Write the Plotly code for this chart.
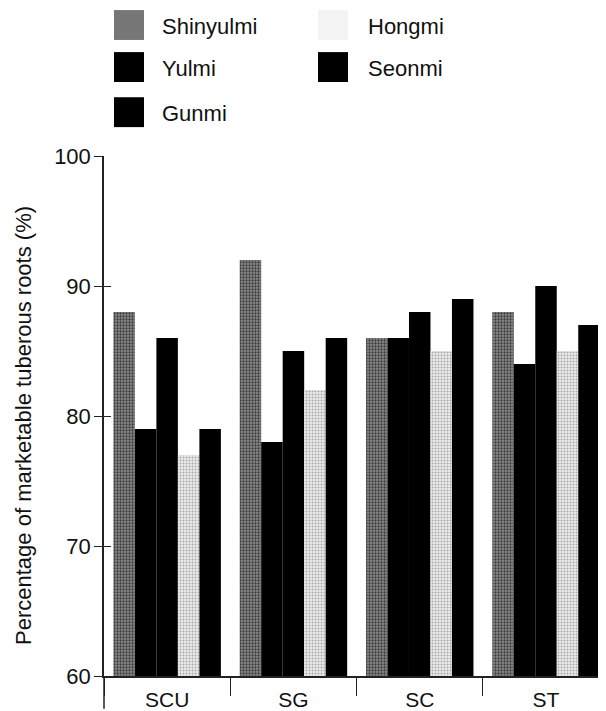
import plotly.graph_objects as go

# ---- data ----
categories = ["SCU", "SG", "SC", "ST"]
varieties = ["Shinyulmi", "Yulmi", "Gunmi", "Hongmi", "Seonmi"]
shinyulmi = [88, 92, 86, 88]
yulmi = [79, 78, 86, 84]
gunmi = [86, 85, 88, 90]
hongmi = [77, 82, 85, 85]
seonmi = [79, 86, 89, 87]
series_values = [shinyulmi, yulmi, gunmi, hongmi, seonmi]
y_ticks = [60, 70, 80, 90, 100]

# ---- styles ----
FONT = "Liberation Sans, Arial, sans-serif"
styles = {
    "Shinyulmi": dict(bg="#8c8c8c", fg="#3c3c3c", shape=".", size=3, solidity=0.45, swatch="#767676"),
    "Yulmi": dict(bg="#000000", fg="#000000", shape="", size=3, solidity=0.3, swatch="#000000"),
    "Gunmi": dict(bg="#000000", fg="#000000", shape="", size=3, solidity=0.3, swatch="#000000"),
    "Hongmi": dict(bg="#ececec", fg="#a8a8a8", shape=".", size=3, solidity=0.35, swatch="#f3f3f3"),
    "Seonmi": dict(bg="#000000", fg="#000000", shape="", size=3, solidity=0.3, swatch="#000000"),
}

OFF = 8  # default page body margin
W, H = 606 - OFF, 711 - OFF
L, R, T, B = 104 - OFF, 0, 156 - OFF, 33
PW, PH = W - L - R, H - T - B


def px_x(p):
    return (p - OFF - L) / PW


def px_y(p):
    return (H - B - (p - OFF)) / PH


fig = go.Figure()
for name, vals in zip(varieties, series_values):
    s = styles[name]
    marker = dict(color=s["bg"], line=dict(width=0))
    if s["shape"]:
        marker["pattern"] = dict(shape=s["shape"], fgcolor=s["fg"], bgcolor=s["bg"],
                                 size=s["size"], solidity=s["solidity"], fillmode="replace")
    fig.add_trace(go.Bar(x=categories, y=vals, name=name, marker=marker, showlegend=False))

# invisible trace for the overlaid tick axis
fig.add_trace(go.Scatter(x=[], y=[], yaxis="y2", showlegend=False, hoverinfo="skip"))

# ---- manual legend ----
legend_cols = [[0, 1, 2], [3, 4]]
col_x = [114, 318]
text_x = [160, 366]
row_cy = [24.5, 66.7, 112]
sw = 30
shapes = []
annotations = []
for ci, col in enumerate(legend_cols):
    for ri, vi in enumerate(col):
        name = varieties[vi]
        cy = row_cy[ri]
        shapes.append(dict(type="rect", xref="paper", yref="paper",
                           x0=px_x(col_x[ci]), x1=px_x(col_x[ci] + sw),
                           y0=px_y(cy + sw / 2), y1=px_y(cy - sw / 2),
                           fillcolor=styles[name]["swatch"], line=dict(width=0)))
        annotations.append(dict(xref="paper", yref="paper", x=px_x(text_x[ci]), y=px_y(cy + 1),
                                xanchor="left", yanchor="middle", showarrow=False, text=name,
                                font=dict(family=FONT, size=22, color="#111")))

# y axis line extension below the x axis
shapes.append(dict(type="line", xref="paper", yref="paper", x0=0, x1=0,
                   y0=px_y(711), y1=0, line=dict(color="#222", width=1.5)))

# y axis title
annotations.append(dict(xref="paper", yref="paper", x=px_x(24), y=px_y(427),
                        xanchor="center", yanchor="middle", showarrow=False, textangle=-90,
                        text="Percentage of marketable tuberous roots (%)",
                        font=dict(family=FONT, size=22, color="#111")))

fig.update_layout(
    width=W, height=H,
    margin=dict(l=L, r=R, t=T, b=B, pad=0),
    paper_bgcolor="white", plot_bgcolor="white",
    barmode="group", bargap=0.149, bargroupgap=0,
    font=dict(family=FONT, size=22, color="#111"),
    shapes=shapes, annotations=annotations,
    xaxis=dict(type="category", range=[-0.5, 3.475], showline=True, linecolor="#222", linewidth=1.5,
               ticks="outside", tickson="boundaries", ticklen=18, tickwidth=1.2, tickcolor="#222",
               ticklabelstandoff=4, showgrid=False, zeroline=False,
               tickfont=dict(family=FONT, size=21, color="#111")),
    yaxis=dict(range=[60, 100], tickvals=y_ticks, ticktext=[str(v) for v in y_ticks],
               showline=True, linecolor="#222", linewidth=1.5,
               ticks="outside", ticklen=8, tickwidth=1.2, tickcolor="#222",
               ticklabelstandoff=-1, showgrid=False, zeroline=False,
               tickfont=dict(family=FONT, size=22, color="#111")),
    yaxis2=dict(overlaying="y", side="left", range=[60, 100], tickvals=y_ticks,
                showticklabels=False, ticks="inside", ticklen=7, tickwidth=1.2, tickcolor="#222",
                showline=False, showgrid=False, zeroline=False),
)

fig.write_html("out.html")
